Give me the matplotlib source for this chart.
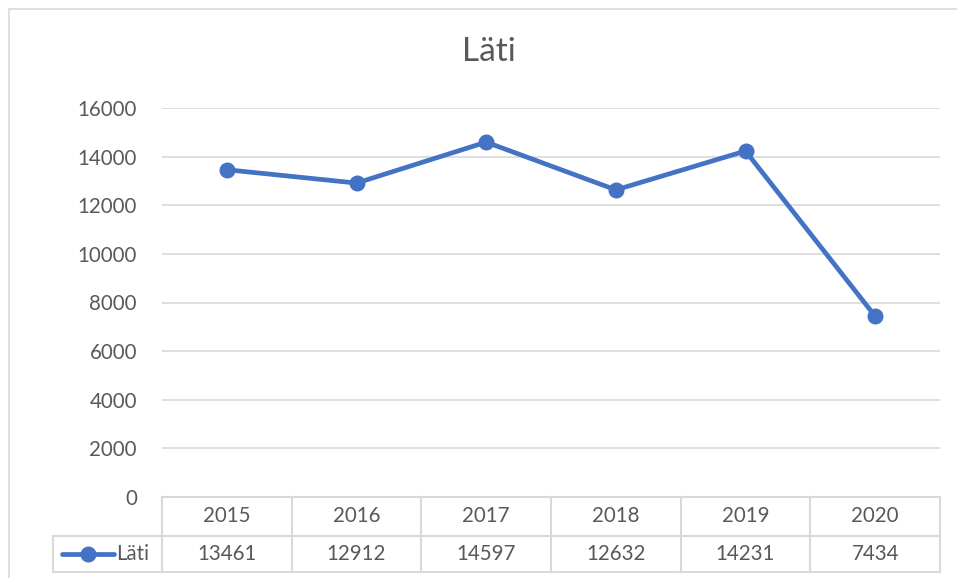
import matplotlib.pyplot as plt
from matplotlib.lines import Line2D

# Datos del grafico
anios = ["2015", "2016", "2017", "2018", "2019", "2020"]
valores = [13461, 12912, 14597, 12632, 14231, 7434]
serie = "Läti"
ticks_y = [0, 2000, 4000, 6000, 8000, 10000, 12000, 14000, 16000]

plt.rcParams['font.family'] = ['Lato', 'DejaVu Sans']
gris = "#595959"
linea_grid = "#d9d9d9"
azul = "#4472C4"
tam = 14.8

W, H = 957, 578
fig = plt.figure(figsize=(W / 100, H / 100), dpi=100)

# Marco del grafico
fig.add_artist(plt.Rectangle((9 / W, -0.1), 2, 1 - 9 / H + 0.1, transform=fig.transFigure,
                             fill=False, edgecolor=linea_grid, linewidth=1.2))

# Area de trazado en pixeles
izq, der, arriba, abajo = 162, 940, 108, 497
ax = fig.add_axes([izq / W, 1 - abajo / H, (der - izq) / W, (abajo - arriba) / H])
x = list(range(len(anios)))
ax.plot(x, valores, color=azul, linewidth=3.4, marker='o', markersize=10.5,
        solid_capstyle='round', zorder=3, clip_on=False)
ax.set_xlim(-0.5, len(anios) - 0.5)
ax.set_ylim(0, 16000)
ax.set_yticks(ticks_y)
ax.set_yticklabels([str(t) for t in ticks_y], color=gris, fontsize=tam)
ax.tick_params(axis='y', length=0, pad=18)
ax.set_xticks([])
ax.grid(axis='y', color=linea_grid, linewidth=1.2)
for s in ax.spines.values():
    s.set_visible(False)

fig.text(489 / W, 1 - 52 / H, serie, ha='center', va='center', fontsize=24, color=gris)

# Tabla de datos debajo del eje
fila1, fila2, fila3 = 497, 536, 572
ancho_col = (der - izq) / len(anios)
leg_izq = 53

def fy(p):
    return 1 - p / H

def fx(p):
    return p / W

def linea(x0, y0, x1, y1):
    fig.add_artist(Line2D([fx(x0), fx(x1)], [fy(y0), fy(y1)], color=linea_grid, linewidth=1.5))

linea(izq, fila1, der, fila1)
linea(leg_izq, fila2, der, fila2)
linea(leg_izq, fila3, der, fila3)
linea(leg_izq, fila2, leg_izq, fila3)
for i in range(len(anios) + 1):
    xc = izq + i * ancho_col
    linea(xc, fila1, xc, fila3)

for i, (a, v) in enumerate(zip(anios, valores)):
    xc = izq + (i + 0.5) * ancho_col
    fig.text(fx(xc), fy((fila1 + fila2) / 2), a, ha='center', va='center', fontsize=tam, color=gris)
    fig.text(fx(xc), fy((fila2 + fila3) / 2), str(v), ha='center', va='center', fontsize=tam, color=gris)

# Clave de la leyenda en la tabla
ym = fy((fila2 + fila3) / 2)
fig.add_artist(Line2D([fx(62), fx(114)], [ym, ym], color=azul, linewidth=3.4,
                      marker=None, solid_capstyle='round'))
fig.add_artist(Line2D([fx(88)], [ym], color=azul, marker='o', markersize=10.5))
fig.text(fx(116), ym, serie, ha='left', va='center', fontsize=tam, color=gris)

fig.savefig("out.png", dpi=100)
